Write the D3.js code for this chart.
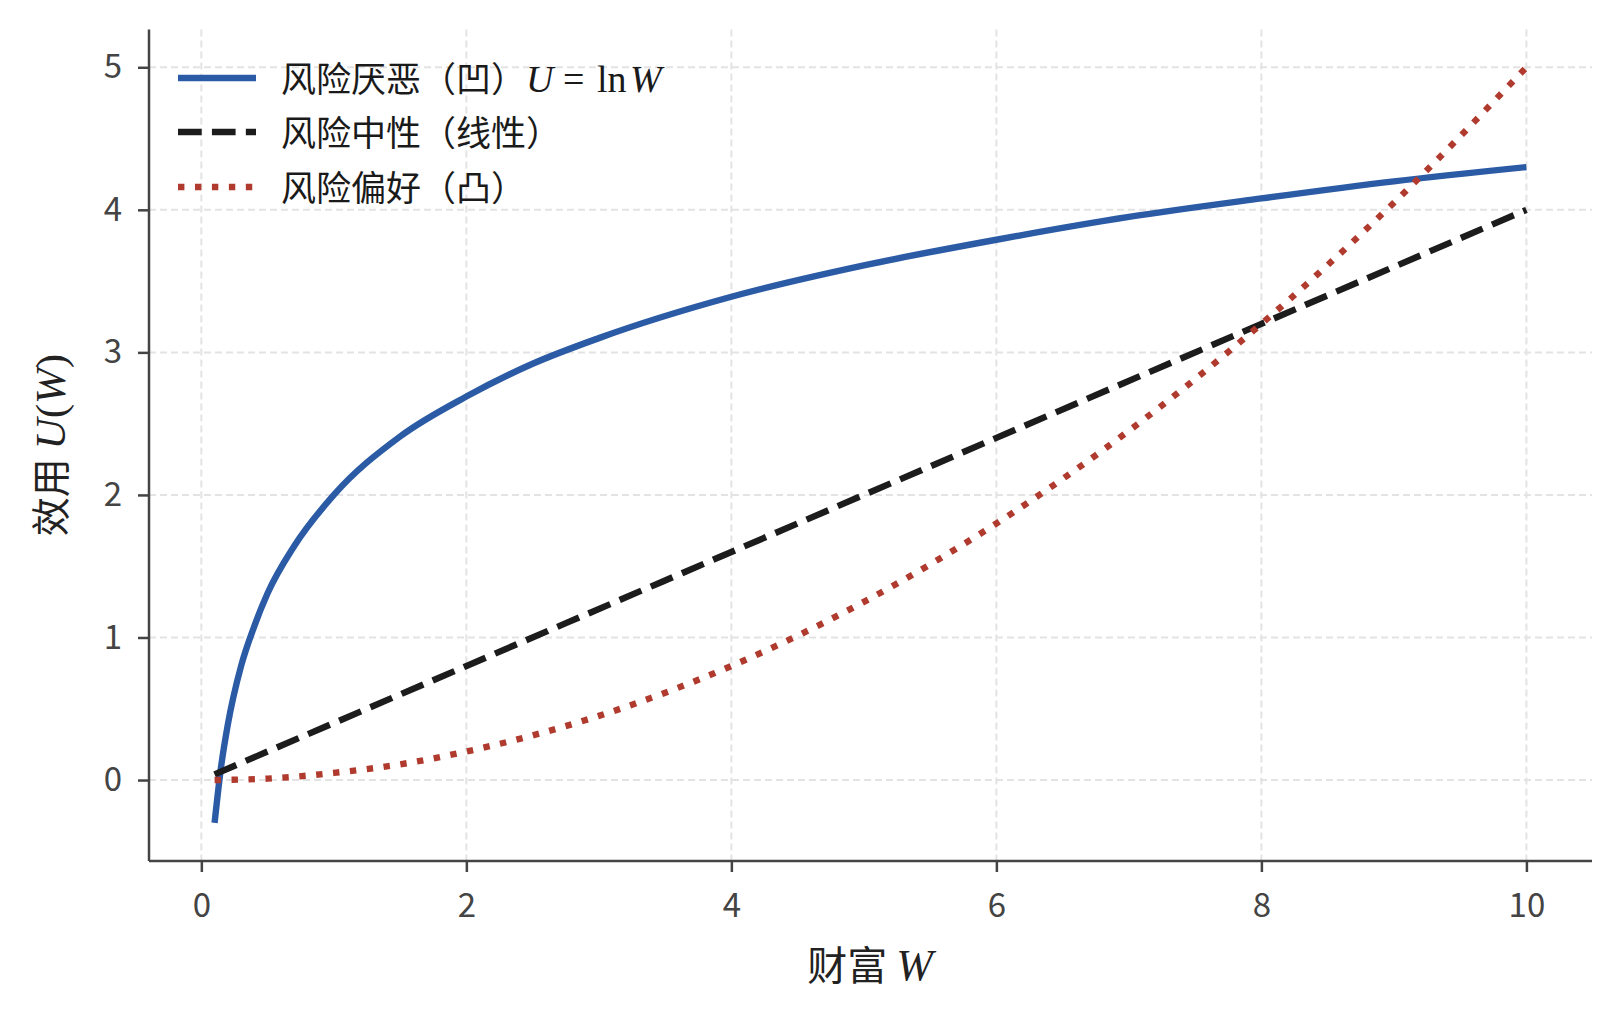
<!DOCTYPE html>
<html><head><meta charset="utf-8">
<script src="https://cdn.jsdelivr.net/npm/d3@7"></script>
<style>body{margin:0;background:#fff}svg{display:block}</style>
</head><body>
<script>
// ---- data ----
const averseW = [0.1,0.15,0.2,0.3,0.4,0.5,0.7,1.0,1.5,2.0,2.5,3.0,4.0,5.0,6.0,7.0,8.0,9.0,10.0];
const averseU = [-0.30,0.10,0.39,0.80,1.08,1.31,1.64,2.00,2.41,2.69,2.92,3.10,3.39,3.61,3.79,3.95,4.08,4.20,4.30];
const neutralW = [0.1,2,4,6,8,10];
const neutralU = [0.04,0.80,1.60,2.40,3.20,4.00];
const seekingW = [0.1,0.5,1,1.5,2,3,4,5,6,7,8,9,10];
const seekingU = [0.00,0.01,0.05,0.11,0.20,0.45,0.80,1.25,1.80,2.45,3.20,4.05,5.00];
const xTicks = [0,2,4,6,8,10];
const yTicks = [0,1,2,3,4,5];
const legendLabels = ["风险厌恶（凹）","风险中性（线性）","风险偏好（凸）"];

const W = 1620, H = 1019;
const svg = d3.select("body").append("svg").attr("width", W).attr("height", H);
svg.append("rect").attr("width", W).attr("height", H).attr("fill", "#fff");

const L = 149, R = 1592, T = 29.5, B = 861;
const x = d3.scaleLinear().domain([-0.395, 10.495]).range([L, R]);
const y = d3.scaleLinear().domain([-0.568, 5.265]).range([B, T]);
const cjk = "'Noto Sans CJK SC','Noto Sans',sans-serif";
const mathF = "'Liberation Serif','DejaVu Serif',serif";

// grid
const g = svg.append("g");
g.selectAll(".vg").data(xTicks).join("line")
  .attr("x1", d => x(d)).attr("x2", d => x(d)).attr("y1", T).attr("y2", B)
  .attr("stroke", "#e3e3e3").attr("stroke-width", 2).attr("stroke-dasharray", "7,4");
g.selectAll(".hg").data(yTicks).join("line")
  .attr("y1", d => y(d)).attr("y2", d => y(d)).attr("x1", L).attr("x2", R)
  .attr("stroke", "#e3e3e3").attr("stroke-width", 2).attr("stroke-dasharray", "7,4");

// lines
const lw = 6.4;
const line = d3.line().x(d => x(d[0])).y(d => y(d[1])).curve(d3.curveMonotoneX);
const series = [
  {w: averseW, u: averseU, color: "#2c5ba6", dash: null},
  {w: neutralW, u: neutralU, color: "#1c1c1c", dash: `${3.7*lw},${1.6*lw}`},
  {w: seekingW, u: seekingU, color: "#b03a2e", dash: `${1*lw},${1.65*lw}`}
];
series.forEach(s => {
  svg.append("path").datum(d3.zip(s.w, s.u)).attr("d", line)
    .attr("fill", "none").attr("stroke", s.color).attr("stroke-width", lw)
    .attr("stroke-dasharray", s.dash).attr("stroke-linecap", "butt");
});

// axes
const ax = svg.append("g").attr("transform", `translate(0,${B})`)
  .call(d3.axisBottom(x).tickValues(xTicks).tickSize(11).tickPadding(22).tickFormat(d3.format("d")));
const ay = svg.append("g").attr("transform", `translate(${L},0)`)
  .call(d3.axisLeft(y).tickValues(yTicks).tickSize(11).tickPadding(16).tickFormat(d3.format("d")));
[ax, ay].forEach(a => {
  a.select(".domain").attr("stroke", "#444").attr("stroke-width", 2.5);
  a.selectAll(".tick line").attr("stroke", "#444").attr("stroke-width", 2.5);
  a.selectAll(".tick text").attr("fill", "#444").style("font-family", cjk).style("font-size", "33px");
});
ax.select(".domain").attr("d", `M${L},0H${R}`);
ay.select(".domain").attr("d", `M0,${B}V${T}`);

// axis labels
const xl = svg.append("text").attr("x", 870).attr("y", 980).attr("text-anchor", "middle")
  .attr("fill", "#222").style("font-size", "40px");
xl.append("tspan").style("font-family", cjk).text("财富 ");
xl.append("tspan").style("font-family", mathF).style("font-style", "italic").style("font-size", "44px").text("W");

const yl = svg.append("text").attr("transform", "translate(65,445) rotate(-90)").attr("text-anchor", "middle")
  .attr("fill", "#222").style("font-size", "39px");
yl.append("tspan").style("font-family", cjk).text("效用 ");
yl.append("tspan").style("font-family", mathF).style("font-style", "italic").style("font-size", "43px").text("U");
yl.append("tspan").style("font-family", mathF).style("font-size", "43px").text("(");
yl.append("tspan").style("font-family", mathF).style("font-style", "italic").style("font-size", "43px").text("W");
yl.append("tspan").style("font-family", mathF).style("font-size", "43px").text(")");

// legend
const rows = [78, 132, 187];
series.forEach((s, i) => {
  svg.append("line").attr("x1", 178).attr("x2", 256).attr("y1", rows[i]).attr("y2", rows[i])
    .attr("stroke", s.color).attr("stroke-width", lw).attr("stroke-dasharray", s.dash);
  const t = svg.append("text").attr("x", 281).attr("y", rows[i] + 13.5)
    .attr("fill", "#1a1a1a").style("font-size", "35px");
  t.append("tspan").style("font-family", cjk).text(legendLabels[i]);
  if (i === 0) {
    const ms = "38px";
    t.append("tspan").attr("x", 526).style("font-family", mathF).style("font-style", "italic").style("font-size", ms).text("U");
    t.append("tspan").attr("x", 563).style("font-family", mathF).style("font-size", ms).text("=");
    t.append("tspan").attr("x", 597).style("font-family", mathF).style("font-size", ms).text("ln");
    t.append("tspan").attr("x", 630).style("font-family", mathF).style("font-style", "italic").style("font-size", ms).text("W");
  }
});
</script>
</body></html>
